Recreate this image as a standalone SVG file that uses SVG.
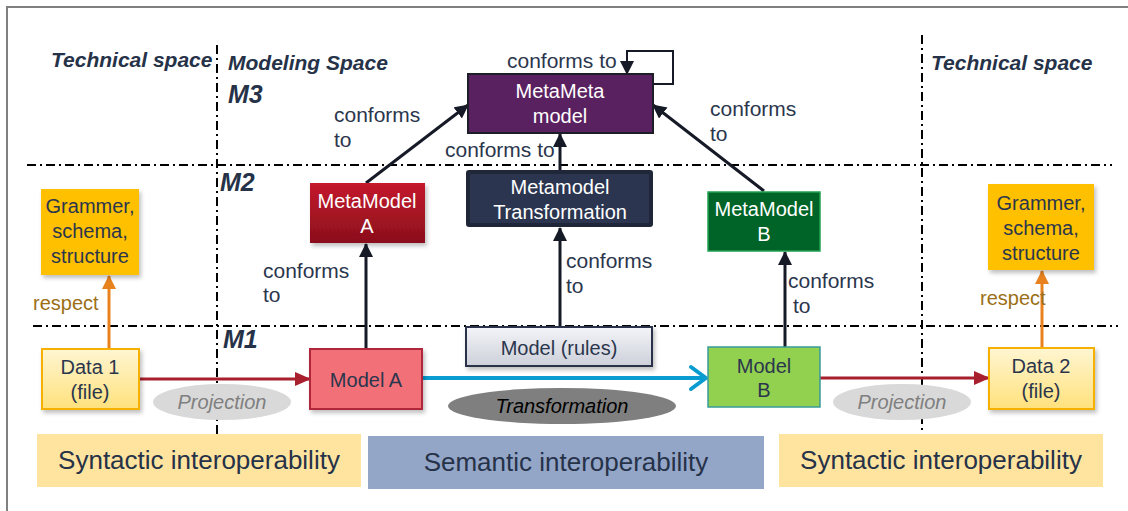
<svg xmlns="http://www.w3.org/2000/svg" width="1128" height="511" viewBox="0 0 1128 511">
<style>
text{font-family:"Liberation Sans",Arial,sans-serif;}
.lbl{font-size:21px;fill:#2B364D;}
.node{font-size:20px;fill:#2B364D;text-anchor:middle;}
.wt{font-size:20px;fill:#FFFFFF;text-anchor:middle;}
.hdr{font-size:21px;font-weight:bold;font-style:italic;fill:#263248;}
.lvl{font-size:25px;font-weight:bold;font-style:italic;fill:#263248;}
.big{font-size:26px;fill:#263248;text-anchor:middle;}
.resp{font-size:20px;fill:#9C6F17;}
.dd{stroke:#000;stroke-width:2;stroke-dasharray:9 4 2 4;fill:none;}
.blk{stroke:#151A26;stroke-width:3;fill:none;}
</style>
<defs>
<marker id="ah" markerWidth="14" markerHeight="14" refX="13" refY="7" orient="auto" markerUnits="userSpaceOnUse"><path d="M0,0 L14,7 L0,14 z" fill="#151A26"/></marker>
<marker id="ao" markerWidth="14" markerHeight="14" refX="13" refY="7" orient="auto" markerUnits="userSpaceOnUse"><path d="M0,0 L14,7 L0,14 z" fill="#E8821E"/></marker>
<marker id="ar" markerWidth="16" markerHeight="14" refX="15" refY="7" orient="auto" markerUnits="userSpaceOnUse"><path d="M0,0 L16,7 L0,14 z" fill="#A8202E"/></marker>
<filter id="sh" x="-20%" y="-20%" width="150%" height="150%"><feDropShadow dx="2" dy="3" stdDeviation="2" flood-color="#000" flood-opacity="0.25"/></filter>
<linearGradient id="gData" x1="0" y1="0" x2="0" y2="1"><stop offset="0" stop-color="#FFF6D2"/><stop offset="1" stop-color="#FFE17C"/></linearGradient>
<linearGradient id="gRed" x1="0" y1="0" x2="0" y2="1"><stop offset="0" stop-color="#C41A2C"/><stop offset="1" stop-color="#8A0F1C"/></linearGradient>
<linearGradient id="gGray" x1="0" y1="0" x2="0" y2="1"><stop offset="0" stop-color="#F4F4F8"/><stop offset="1" stop-color="#CDD0DA"/></linearGradient>
</defs>

<g id="frame">
<rect x="7" y="7" width="1130" height="520" fill="none" stroke="#808080" stroke-width="2"/>
</g>

<g id="separators">
<line class="dd" x1="217" y1="45" x2="217" y2="434"/>
<line class="dd" x1="922" y1="35" x2="922" y2="434"/>
<line class="dd" x1="27" y1="165" x2="1112" y2="165"/>
<line class="dd" x1="33" y1="326" x2="1118" y2="326"/>
</g>

<g id="headers">
<text class="hdr" x="51" y="67">Technical space</text>
<text class="hdr" x="228" y="70">Modeling Space</text>
<text class="hdr" x="931" y="70">Technical space</text>
<text class="lvl" x="228" y="103">M3</text>
<text class="lvl" x="220" y="191">M2</text>
<text class="lvl" x="223" y="348">M1</text>
</g>

<g id="bands">
<g id="syntactic-left"><rect x="37" y="434" width="324" height="53" fill="#FFE4A0"/><text class="big" x="199" y="469">Syntactic interoperability</text></g>
<g id="semantic"><rect x="368" y="436" width="396" height="53" fill="#94A6C8"/><text class="big" x="566" y="471">Semantic interoperability</text></g>
<g id="syntactic-right"><rect x="779" y="434" width="324" height="53" fill="#FFE4A0"/><text class="big" x="941" y="469">Syntactic interoperability</text></g>
</g>

<g id="ellipses">
<g id="projection-left"><ellipse cx="222" cy="402" rx="69" ry="18" fill="#D9D9D9"/><text x="222" y="409" text-anchor="middle" font-size="20" font-style="italic" fill="#7F7F7F">Projection</text></g>
<g id="projection-right"><ellipse cx="902" cy="402" rx="69" ry="18" fill="#D9D9D9"/><text x="902" y="409" text-anchor="middle" font-size="20" font-style="italic" fill="#7F7F7F">Projection</text></g>
<g id="transformation"><ellipse cx="562" cy="406" rx="114" ry="18" fill="#7F7F7F"/><text x="562" y="413" text-anchor="middle" font-size="20" font-style="italic" fill="#000">Transformation</text></g>
</g>

<g id="connectors">
<path class="blk" d="M366,183 L468,105" marker-end="url(#ah)"/>
<path class="blk" d="M560,170 L560,134" marker-end="url(#ah)"/>
<path class="blk" d="M764,191 L653,105" marker-end="url(#ah)"/>
<path d="M653,84 L673,84 L673,51 L627,51 L627,74" fill="none" stroke="#151A26" stroke-width="2" marker-end="url(#ah)"/>
<path class="blk" d="M366,349 L366,244" marker-end="url(#ah)"/>
<path class="blk" d="M560,326 L560,228" marker-end="url(#ah)"/>
<path class="blk" d="M785,347 L785,252" marker-end="url(#ah)"/>
<path d="M109,349 L109,276" fill="none" stroke="#E8821E" stroke-width="3" marker-end="url(#ao)"/>
<path d="M1042,349 L1042,271" fill="none" stroke="#E8821E" stroke-width="3" marker-end="url(#ao)"/>
<path d="M139,379 L310,379" fill="none" stroke="#A8202E" stroke-width="3" marker-end="url(#ar)"/>
<path d="M820,378 L989,378" fill="none" stroke="#A8202E" stroke-width="3" marker-end="url(#ar)"/>
<path d="M422,378 L706,378" fill="none" stroke="#0A9CD0" stroke-width="4"/>
<path d="M691,367 L706,378 L691,389" fill="none" stroke="#0A9CD0" stroke-width="4" stroke-linecap="round" stroke-linejoin="round"/>
<text class="lbl" x="507" y="68">conforms to</text>
<text class="lbl" x="334" y="122">conforms</text>
<text class="lbl" x="334" y="147">to</text>
<text class="lbl" x="445" y="157">conforms to</text>
<text class="lbl" x="710" y="116">conforms</text>
<text class="lbl" x="710" y="141">to</text>
<text class="lbl" x="263" y="278">conforms</text>
<text class="lbl" x="263" y="302">to</text>
<text class="lbl" x="566" y="268">conforms</text>
<text class="lbl" x="566" y="293">to</text>
<text class="lbl" x="788" y="288">conforms</text>
<text class="lbl" x="793" y="313">to</text>
<text class="resp" x="33" y="310">respect</text>
<text class="resp" x="980" y="305">respect</text>
</g>

<g id="metameta">
<rect x="468" y="74" width="185" height="59" fill="#5A2160" stroke="#1E1E28" stroke-width="2"/>
<text class="wt" x="560" y="98">MetaMeta</text>
<text class="wt" x="560" y="123">model</text>
</g>

<g id="metamodel-transformation">
<rect x="466" y="170" width="187" height="57" rx="3" fill="#1F2638"/>
<rect x="470" y="174" width="179" height="49" fill="#2B3550"/>
<text class="wt" x="560" y="194">Metamodel</text>
<text class="wt" x="560" y="219">Transformation</text>
</g>

<g id="metamodel-a">
<rect x="310" y="183" width="115" height="60" fill="url(#gRed)" filter="url(#sh)"/>
<text class="wt" x="367" y="208">MetaModel</text>
<text class="wt" x="367" y="233">A</text>
</g>

<g id="metamodel-b">
<rect x="708" y="192" width="112" height="59" fill="#006428" stroke="#22A050" stroke-width="1.5"/>
<text class="wt" x="764" y="216">MetaModel</text>
<text class="wt" x="764" y="241">B</text>
</g>

<g id="grammar-left">
<rect x="41" y="189" width="98" height="86" fill="#FFC000" filter="url(#sh)"/>
<text class="node" x="90" y="213">Grammer,</text>
<text class="node" x="90" y="238">schema,</text>
<text class="node" x="90" y="263">structure</text>
</g>

<g id="grammar-right">
<rect x="988" y="184" width="106" height="86" fill="#FFC000" filter="url(#sh)"/>
<text class="node" x="1041" y="210">Grammer,</text>
<text class="node" x="1041" y="235">schema,</text>
<text class="node" x="1041" y="260">structure</text>
</g>

<g id="data1">
<rect x="42" y="349" width="97" height="60" fill="url(#gData)" stroke="#F5B000" stroke-width="2" filter="url(#sh)"/>
<text class="node" x="90" y="374">Data 1</text>
<text class="node" x="90" y="399">(file)</text>
</g>

<g id="data2">
<rect x="989" y="348" width="105" height="61" fill="url(#gData)" stroke="#F5B000" stroke-width="2" filter="url(#sh)"/>
<text class="node" x="1041" y="373">Data 2</text>
<text class="node" x="1041" y="398">(file)</text>
</g>

<g id="model-a">
<rect x="310" y="349" width="112" height="60" fill="#F27078" stroke="#B0283A" stroke-width="2" filter="url(#sh)"/>
<text class="node" x="366" y="387">Model A</text>
</g>

<g id="model-rules">
<rect x="466" y="327" width="186" height="39" fill="url(#gGray)" stroke="#2A3048" stroke-width="2" filter="url(#sh)"/>
<text class="node" x="559" y="355">Model (rules)</text>
</g>

<g id="model-b">
<rect x="708" y="347" width="112" height="60" fill="#92D050" stroke="#3A9A9A" stroke-width="1.5"/>
<text class="node" x="764" y="373">Model</text>
<text class="node" x="764" y="397">B</text>
</g>
</svg>
